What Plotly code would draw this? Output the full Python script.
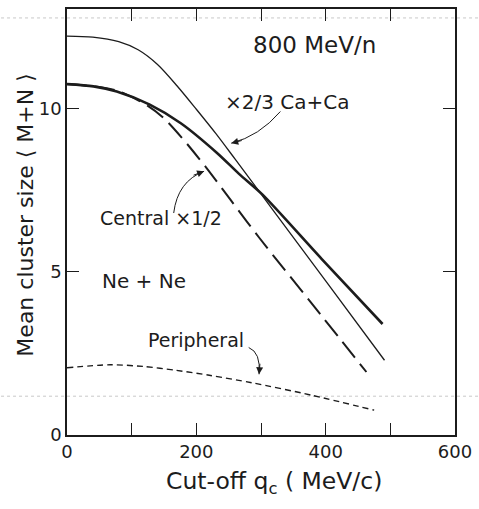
import plotly.graph_objects as go

# ---- data ----
q_ca = [0, 40, 80, 110, 140, 170, 200, 230, 260, 320, 400, 491]
v_ca = [12.22, 12.19, 12.05, 11.80, 11.35, 10.70, 9.98, 9.24, 8.45, 6.85, 4.72, 2.29]

q_ne = [0, 41, 77, 128, 176, 232, 266, 302, 394, 488]
v_ne = [10.75, 10.68, 10.52, 10.12, 9.55, 8.64, 8.00, 7.37, 5.39, 3.40]

q_central = [0, 50, 82, 125, 150, 177, 215, 253, 297, 391, 463]
v_central = [10.75, 10.66, 10.52, 10.08, 9.70, 9.12, 8.20, 7.20, 6.05, 3.72, 1.93]

q_periph = [0, 67, 118, 169, 220, 286, 378, 475]
v_periph = [2.06, 2.15, 2.10, 1.98, 1.83, 1.60, 1.22, 0.76]

x_tickvals = [0, 100, 200, 300, 400, 500, 600]
x_ticktext = ["0", "", "200", "", "400", "", "600"]
y_tickvals = [0, 5, 10]
y_ticktext = ["0", "5", "10"]

INK = "#1c1c1c"
FONT = "DejaVu Sans"

fig = go.Figure()
fig.add_trace(go.Scatter(x=q_ca, y=v_ca, mode="lines", line=dict(color=INK, width=1.3, shape="spline", smoothing=0.8)))
fig.add_trace(go.Scatter(x=q_ne, y=v_ne, mode="lines", line=dict(color=INK, width=2.6, shape="spline", smoothing=0.8)))
fig.add_trace(go.Scatter(x=q_central, y=v_central, mode="lines", line=dict(color=INK, width=2.0, dash="20px,8px", shape="spline", smoothing=0.8)))
fig.add_trace(go.Scatter(x=q_periph, y=v_periph, mode="lines", line=dict(color=INK, width=1.4, dash="6px,4px", shape="spline", smoothing=0.8)))

# curved arrows (paths) + arrowheads
arrow_paths = [
    "M 330,9.91 Q 297,9.15 254,8.94",
    "M 165,6.80 Q 171,7.77 212,8.08",
    "M 281,2.68 Q 300,2.53 297,1.86",
]
for p in arrow_paths:
    fig.add_shape(type="path", path=p, xref="x", yref="y", line=dict(color=INK, width=1))

heads = [(254, 8.94, 12, -3), (212, 8.08, -12, 4.5), (297, 1.86, 1, -12)]
for hx, hy, ax, ay in heads:
    fig.add_annotation(x=hx, y=hy, ax=ax, ay=ay, xref="x", yref="y", text="",
                       showarrow=True, arrowhead=2, arrowsize=1.4, arrowwidth=1, arrowcolor=INK)

texts = [
    ("800 MeV/n", 382.5, 11.95, 23),
    ("×2/3 Ca+Ca", 341, 10.21, 20),
    ("Central ×1/2", 145.6, 6.65, 19),
    ("Ne + Ne", 118.8, 4.73, 20),
    ("Peripheral", 200, 2.90, 19),
]
for t, x, y, s in texts:
    fig.add_annotation(x=x, y=y, xref="x", yref="y", text=t, showarrow=False,
                       font=dict(family=FONT, size=s, color=INK))

# axis titles
fig.add_annotation(x=0.534, y=-0.152, xref="paper", yref="paper", text="Cut-off q<sub>c</sub> ( MeV/c)",
                   showarrow=False, font=dict(family=FONT, size=23.5, color=INK))
fig.add_annotation(x=-0.143, y=0.515, xref="paper", yref="paper", text="Mean cluster size ⟨ M+N ⟩",
                   textangle=-90, showarrow=False, font=dict(family=FONT, size=22, color=INK))

# faint scan lines
for yp in [0.979, 0.0911]:
    fig.add_shape(type="line", xref="paper", yref="paper", x0=-0.17, x1=1.06, y0=yp, y1=yp,
                  line=dict(color="#c8c8c8", width=1, dash="dot"), layer="below")

fig.update_layout(
    width=479, height=509,
    margin=dict(l=66.5, r=21, t=7, b=74),
    paper_bgcolor="white", plot_bgcolor="white",
    showlegend=False,
    font=dict(family=FONT, size=18, color=INK),
)
fig.update_xaxes(range=[0, 600], tickvals=x_tickvals, ticktext=x_ticktext, ticks="inside", ticklen=12,
                 tickwidth=1.2, tickcolor=INK, showline=True, linecolor=INK, linewidth=1.5, mirror="ticks",
                 showgrid=False, zeroline=False, tickfont=dict(family=FONT, size=18, color=INK))
fig.update_yaxes(range=[0, 13.05], tickvals=y_tickvals, ticktext=y_ticktext, ticks="inside", ticklen=12,
                 tickwidth=1.2, tickcolor=INK, showline=True, linecolor=INK, linewidth=1.5, mirror="ticks",
                 showgrid=False, zeroline=False, tickfont=dict(family=FONT, size=18, color=INK))

fig.write_html("out.html", config={"displayModeBar": False},
               post_script="document.body.style.margin='0';document.body.style.padding='0';")
